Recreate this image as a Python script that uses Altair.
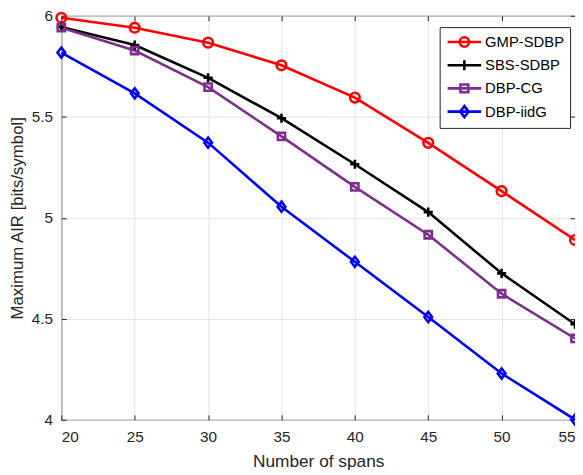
import altair as alt
import pandas as pd

spans = [20, 25, 30, 35, 40, 45, 50, 55]
series_names = ["GMP-SDBP", "SBS-SDBP", "DBP-CG", "DBP-iidG"]
gmp_sdbp = [5.99, 5.941, 5.867, 5.755, 5.595, 5.371, 5.132, 4.89]
sbs_sdbp = [5.945, 5.855, 5.693, 5.493, 5.265, 5.028, 4.725, 4.473]
dbp_cg = [5.941, 5.828, 5.647, 5.403, 5.153, 4.916, 4.624, 4.403]
dbp_iidg = [5.818, 5.616, 5.372, 5.055, 4.782, 4.509, 4.229, 4.001]
colors = ["#FF0000", "#000000", "#7E2F8E", "#0000FF"]
y_ticks = [4, 4.5, 5, 5.5, 6]

rows = []
for name, vals in zip(series_names, [gmp_sdbp, sbs_sdbp, dbp_cg, dbp_iidg]):
    for s, v in zip(spans, vals):
        rows.append({"spans": s, "air": v, "series": name, "label": name})
df = pd.DataFrame(rows)

# marker shapes on the plot
plot_shapes = [
    "circle",
    "M-0.95,0L0.95,0M0,-0.95L0,0.95",
    "M-0.75,-0.75L0.75,-0.75L0.75,0.75L-0.75,0.75Z",
    "M0,-1.05L0.8,0L0,1.05L-0.8,0Z",
]
# legend symbols: line segment plus marker
legend_shapes = [
    "M-2,0L2,0M-0.56,0A0.56,0.56 0 1,1 0.56,0A0.56,0.56 0 1,1 -0.56,0",
    "M-2,0L2,0M0,-0.59L0,0.59",
    "M-2,0L2,0M-0.47,-0.47L0.47,-0.47L0.47,0.47L-0.47,0.47Z",
    "M-2,0L2,0M0,-0.65L0.5,0L0,0.65L-0.5,0Z",
]

FONT = "Liberation Sans"
TXT = "#262626"

xscale = alt.Scale(domain=[20, 55], nice=False, zero=False)
yscale = alt.Scale(domain=[4, 6], nice=False, zero=False)
cscale = alt.Scale(domain=series_names, range=colors)

x_main = alt.X("spans:Q", scale=xscale, title="Number of spans",
               axis=alt.Axis(values=spans, orient="bottom", offset=-5, tickSize=5,
                             domain=False, grid=True, gridColor="#e3e3e3",
                             tickColor=TXT, labelColor=TXT, labelFont=FONT,
                             labelFontSize=15.5, labelPadding=10, titleFont=FONT,
                             titleFontSize=17.5, titleFontWeight="normal",
                             titleColor=TXT, titlePadding=8))
y_main = alt.Y("air:Q", scale=yscale, title="Maximum AIR [bits/symbol]",
               axis=alt.Axis(values=y_ticks, format="~g", orient="left", offset=-5,
                             tickSize=5, domain=False, grid=True, gridColor="#e3e3e3",
                             tickColor=TXT, labelColor=TXT, labelFont=FONT,
                             labelFontSize=15.5, labelPadding=9, titleFont=FONT,
                             titleFontSize=17, titleFontWeight="normal",
                             titleColor=TXT, titlePadding=5))

lines = alt.Chart(df).mark_line(strokeWidth=2.6).encode(
    x=x_main,
    y=y_main,
    color=alt.Color("series:N", scale=cscale, legend=None),
    detail="series:N",
)

x_top = alt.X("spans:Q", scale=xscale,
              axis=alt.Axis(values=spans, orient="top", offset=-5, tickSize=5,
                            domain=False, grid=False, labels=False, title=None,
                            tickColor=TXT))
y_right = alt.Y("air:Q", scale=yscale,
                axis=alt.Axis(values=y_ticks, orient="right", offset=-5,
                              tickSize=5, domain=False, grid=False, labels=False,
                              title=None, tickColor=TXT))

points = alt.Chart(df).mark_point(filled=False, strokeWidth=2.6, size=95, opacity=1).encode(
    x=x_top,
    y=y_right,
    color=alt.Color("series:N", scale=cscale, legend=None),
    shape=alt.Shape("series:N", scale=alt.Scale(domain=series_names, range=plot_shapes),
                    legend=None),
)

legend_layer = alt.Chart(df).transform_filter("false").mark_point(
    filled=False, strokeWidth=2.6, size=289, opacity=1).encode(
    color=alt.Color("label:N", scale=alt.Scale(domain=series_names, range=colors),
                    legend=alt.Legend(title=None, orient="none", legendX=383, legendY=11.5,
                                      labelFont=FONT, labelFontSize=15,
                                      labelColor="#000000", strokeColor=TXT,
                                      fillColor="#ffffff", padding=5,
                                      symbolSize=289, symbolOffset=10, labelOffset=11,
                                      rowPadding=2.5, symbolStrokeWidth=2.6)),
    shape=alt.Shape("label:N", scale=alt.Scale(domain=series_names, range=legend_shapes)),
)

chart = alt.layer(lines, points, legend_layer).resolve_scale(
    color="independent", shape="independent"
).resolve_axis(
    x="independent", y="independent"
).properties(
    width=520, height=409,
    autosize=alt.AutoSizeParams(type="none"),
    padding={"left": 54, "top": 5, "right": 0, "bottom": 53},
).configure_view(stroke=TXT, strokeWidth=1)

chart.save("out.html", embed_options={"renderer": "svg", "actions": False})
